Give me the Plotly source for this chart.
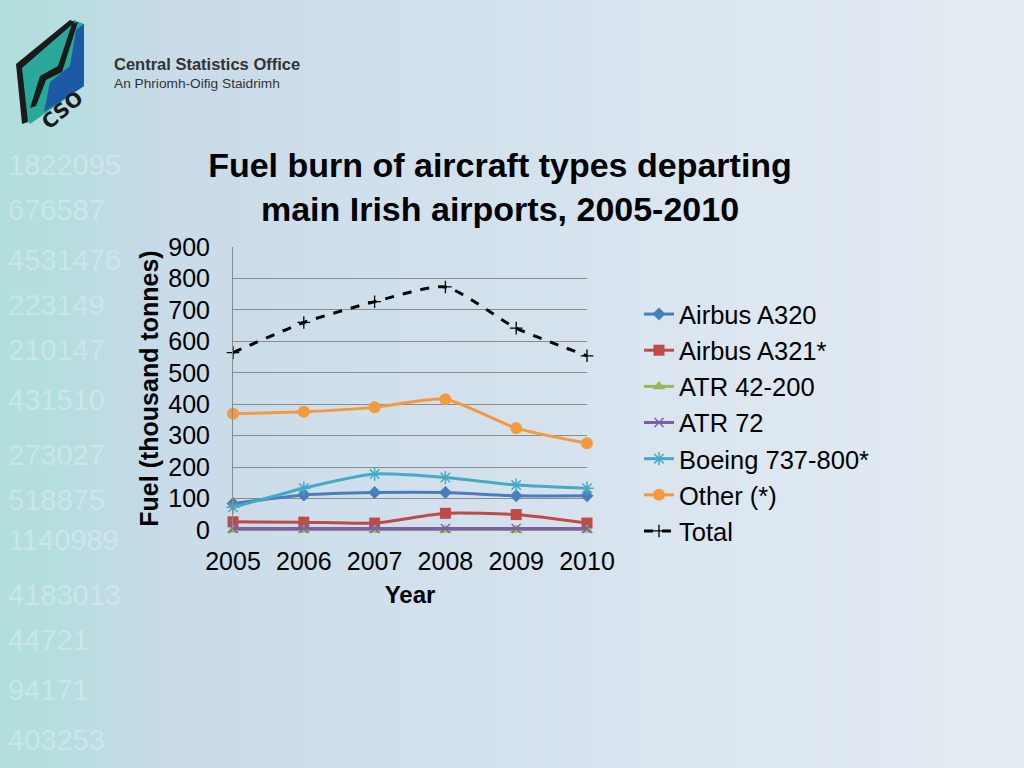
import plotly.graph_objects as go

years = [2005, 2006, 2007, 2008, 2009, 2010]
airbus_a320 = [84, 111, 119, 119, 109, 109]
airbus_a321 = [26, 25, 22, 53, 49, 22]
atr_42_200 = [0, 0, 0, 0, 0, 0]
atr_72 = [5, 5, 5, 5, 5, 5]
boeing_737 = [72, 133, 178, 167, 143, 133]
other = [370, 376, 390, 416, 324, 276]
total = [564, 660, 726, 773, 642, 554]

series = [
    ("Airbus A320", airbus_a320, "#4a7ebb", "diamond", 10),
    ("Airbus A321*", airbus_a321, "#be4b48", "square", 11),
    ("ATR 42-200", atr_42_200, "#98b954", "triangle-up", 11),
    ("ATR 72", atr_72, "#7d60a0", "x-thin", 9),
    ("Boeing 737-800*", boeing_737, "#46aac5", "asterisk-open", 11),
    ("Other (*)", other, "#f39a3f", "circle", 12),
]

# background decoration text (part of the slide template)
bg_big = [("71908", 25), ("1822095", 165), ("676587", 210), ("4531476", 260),
          ("223149", 305), ("210147", 350), ("431510", 400), ("273027", 455),
          ("518875", 500), ("1140989", 540), ("4183013", 595), ("44721", 640),
          ("94171", 690), ("403253", 740)]

# plot area in pixels
L, R, T, B = 233, 587, 247, 530
W, H = 1024, 768

def px(x):
    return (x - L) / (R - L)

def py(y):
    return (B - y) / (B - T)

fig = go.Figure()
for name, vals, color, sym, size in series:
    is_line_sym = sym in ("x-thin", "asterisk-open")
    fig.add_trace(go.Scatter(
        x=years, y=vals, name=name, mode="lines+markers", cliponaxis=False,
        line=dict(color=color, width=3, shape="spline", smoothing=0.6),
        marker=dict(symbol=sym, size=size, color=color,
                    line=dict(color=color, width=1.5 if is_line_sym else 0)),
    ))
fig.add_trace(go.Scatter(
    x=years, y=total, name="Total", mode="lines+markers", cliponaxis=False,
    line=dict(color="black", width=3, dash="dash", shape="spline", smoothing=0.6),
    marker=dict(symbol="cross-thin", size=9, color="black", line=dict(color="black", width=1.3)),
))

shapes = []
# background gradient
def bgcol(x):
    stops = [(0, (178, 222, 220)), (60, (182, 222, 224)), (170, (202, 219, 233)),
             (500, (212, 226, 238)), (1024, (230, 237, 244))]
    for (xa, ca), (xb, cb) in zip(stops[:-1], stops[1:]):
        if xa <= x <= xb:
            t = (x - xa) / (xb - xa)
            return tuple(int(ca[k] + (cb[k] - ca[k]) * t) for k in range(3))
    return stops[-1][1]

n = 64
for i in range(n):
    x0 = W * i / n
    x1 = W * (i + 1) / n + 1
    col = bgcol((x0 + x1) / 2)
    shapes.append(dict(type="rect", xref="paper", yref="paper",
                       x0=px(x0), x1=px(x1), y0=py(H), y1=py(0),
                       fillcolor="rgb(%d,%d,%d)" % col, line=dict(width=0), layer="below"))

def path(pts):
    return "M " + " L ".join("%.4f,%.4f" % (px(a), py(b)) for a, b in pts) + " Z"

# logo
shapes.append(dict(type="path", xref="paper", yref="paper", layer="below",
                   path=path([(22, 62), (74, 20), (84, 24), (84, 86), (30, 124), (22, 112)]),
                   fillcolor="#2aa99b", line=dict(width=0)))
shapes.append(dict(type="path", xref="paper", yref="paper", layer="below",
                   path=path([(84, 24), (84, 86), (44, 112), (50, 82), (70, 66), (76, 30)]),
                   fillcolor="#1d5aa6", line=dict(width=0)))
shapes.append(dict(type="path", xref="paper", yref="paper", layer="below",
                   path=path([(16, 64), (70, 20), (75, 22), (22, 68), (28, 122), (22, 124)]),
                   fillcolor="#1a1a1a", line=dict(width=0)))
shapes.append(dict(type="path", xref="paper", yref="paper", layer="below",
                   path=path([(72, 24), (78, 22), (62, 72), (46, 80), (36, 106), (30, 108), (40, 76), (58, 66)]),
                   fillcolor="#1a1a1a", line=dict(width=0)))

annotations = []
for txt, yy in bg_big:
    if yy < 130:
        continue
    annotations.append(dict(text=txt, x=px(6), y=py(yy), xref="paper", yref="paper",
                            xanchor="left", yanchor="middle", showarrow=False,
                            font=dict(family="Liberation Sans, Arial", size=29,
                                      color="rgba(255,255,255,0.28)")))

annotations += [
    dict(text="<b>Central Statistics Office</b>", x=px(112), y=py(64), xref="paper", yref="paper",
         xanchor="left", yanchor="middle", showarrow=False,
         font=dict(family="Liberation Sans, Arial", size=16.5, color="#333333")),
    dict(text="An Phriomh-Oifig Staidrimh", x=px(112), y=py(84), xref="paper", yref="paper",
         xanchor="left", yanchor="middle", showarrow=False,
         font=dict(family="Liberation Sans, Arial", size=13.7, color="#333333")),
    dict(text="<b>CSO</b>", x=px(62), y=py(110), xref="paper", yref="paper",
         xanchor="center", yanchor="middle", showarrow=False, textangle=-40,
         font=dict(family="DejaVu Sans, Arial", size=20, color="#1a1a1a")),
]

fig.update_layout(
    width=W, height=H,
    margin=dict(l=L, r=W - R, t=T, b=H - B, autoexpand=False),
    paper_bgcolor="#d6e4ef",
    plot_bgcolor="rgba(0,0,0,0)",
    font=dict(family="Liberation Sans, Arial", color="black"),
    title=dict(
        text="<b>Fuel burn of aircraft types departing<br>main Irish airports, 2005-2010</b>",
        x=500 / W, xref="container", xanchor="center",
        y=1 - 177 / H, yref="container", yanchor="middle",
        font=dict(size=34, family="Liberation Sans, Arial", color="black"),
    ),
    xaxis=dict(
        range=[2005, 2010], tickvals=years, ticktext=[str(y) for y in years],
        showgrid=False, zeroline=False, showline=False,
        ticks="", tickfont=dict(size=25), ticklabelstandoff=14,
        title=dict(text="<b>Year</b>", font=dict(size=24), standoff=12),
    ),
    yaxis=dict(
        range=[0, 900], dtick=100, showgrid=True, gridcolor="#8c8c8c", gridwidth=1,
        zeroline=True, zerolinecolor="#8c8c8c", zerolinewidth=1,
        showline=True, linecolor="#8c8c8c", linewidth=1,
        ticks="", tickfont=dict(size=25), ticklabelstandoff=17,
        title=dict(text="<b>Fuel (thousand tonnes)</b>", font=dict(size=25), standoff=2),
    ),
    legend=dict(
        x=639 / W, y=1 - 291 / H, xref="container", yref="container",
        xanchor="left", yanchor="top",
        font=dict(size=25.5, family="Liberation Sans, Arial"),
        bgcolor="rgba(0,0,0,0)", tracegroupgap=0, itemwidth=30,
    ),
    shapes=shapes,
    annotations=annotations,
)

fig.write_html("out.html", config={"displayModeBar": False},
               post_script="document.body.style.margin='0';document.body.style.overflow='hidden';")
